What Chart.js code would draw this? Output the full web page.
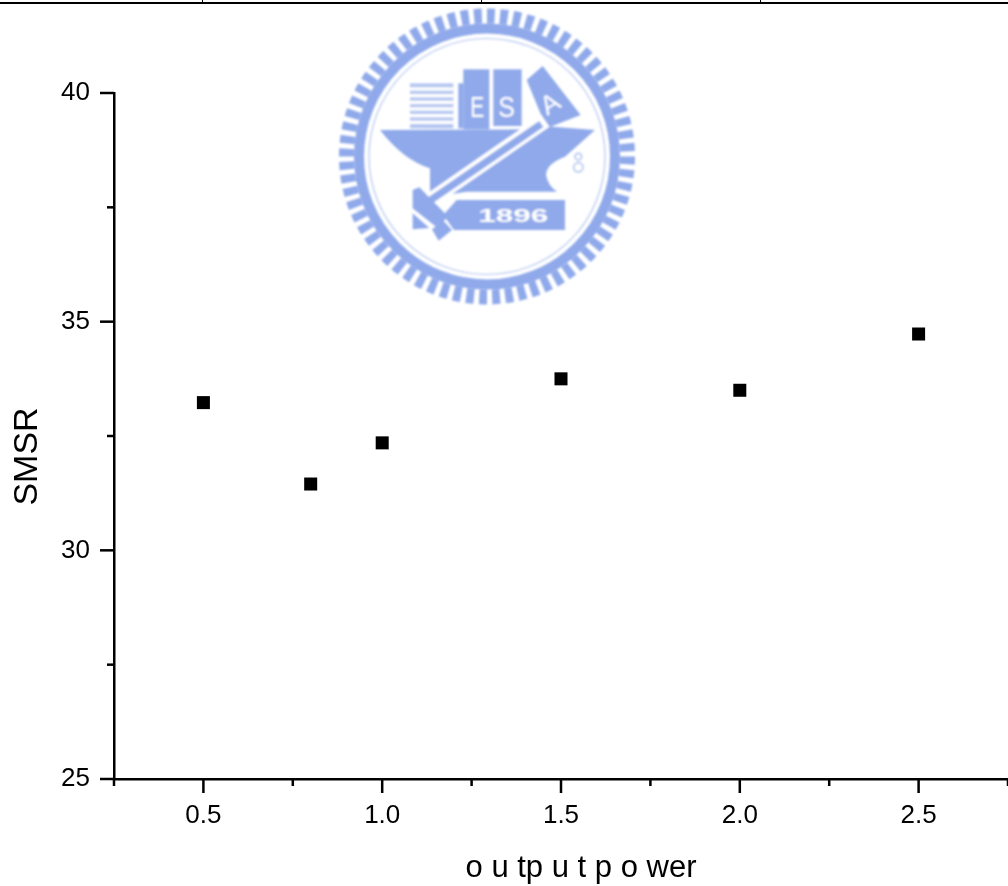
<!DOCTYPE html>
<html>
<head>
<meta charset="utf-8">
<title>SMSR vs output power</title>
<script src="https://cdn.jsdelivr.net/npm/chart.js@4"></script>
<style>
    html, body { margin: 0; padding: 0; background: #fff; overflow: hidden; }
    #wrap { position: relative; width: 1008px; height: 886px; }
    #seal, #myChart { position: absolute; left: 0; top: 0; }
    #seal text { font-family: "Liberation Sans", Arial, sans-serif; fill: #fff; text-anchor: middle; }
</style>
</head>
<body>
<div id="wrap">
    <!-- page rule and the watermark seal that sit behind the plot -->
    <svg id="seal" width="1008" height="886">
        <defs><filter id="soft"><feGaussianBlur stdDeviation="0.9"/></filter></defs>
        <rect x="0" y="2" width="1008" height="2" fill="#000"/>
        <rect x="202" y="0" width="1" height="3" fill="#000"/>
        <rect x="481" y="0" width="1" height="3" fill="#000"/>
        <rect x="760" y="0" width="1" height="3" fill="#000"/>
        <g filter="url(#soft)" fill="#8fa9ea">
            <circle cx="487" cy="156.5" r="140.5" fill="none" stroke="#8fa9ea" stroke-width="15" pathLength="680" stroke-dasharray="6 4"/>
            <circle cx="487" cy="156.5" r="128" fill="none" stroke="#8fa9ea" stroke-width="10"/>
            <circle cx="487" cy="156.5" r="118" fill="none" stroke="#b5c6f0" stroke-width="1.2"/>
            <g transform="translate(330,0) scale(0.3333)">
                <!-- striped book -->
                <rect x="240" y="250" width="130" height="135" fill="#b4c6f0"/>
                <g fill="#fff">
                    <rect x="240" y="262" width="130" height="10"/><rect x="240" y="282" width="130" height="10"/>
                    <rect x="240" y="302" width="130" height="10"/><rect x="240" y="322" width="130" height="10"/>
                    <rect x="240" y="342" width="130" height="10"/><rect x="240" y="362" width="130" height="10"/>
                </g>
                <!-- books -->
                <rect x="400" y="208" width="78" height="180"/>
                <rect x="385" y="250" width="15" height="135"/>
                <rect x="490" y="208" width="85" height="170"/>
                <polygon points="590,240 638,198 752,345 650,385"/>
                <!-- anvil -->
                <path d="M150,390 L590,388 L640,378 L795,390 L705,470 Q650,490 648,525 Q655,560 682,575 L410,575 L300,592 L300,505 Q220,480 150,390 Z"/>
                <!-- hammer handle with white outline -->
                <line x1="646" y1="362" x2="262" y2="628" stroke="#fff" stroke-width="44"/>
                <line x1="634" y1="372" x2="262" y2="628" stroke="#8fa9ea" stroke-width="22"/>
                <!-- hammer head -->
                <polygon points="248,570 268,562 355,650 320,682 248,625"/>
                <polygon points="248,640 298,684 248,688"/>
                <polygon points="306,688 340,662 366,690 326,722"/>
                <!-- year plate -->
                <polygon points="380,600 705,600 705,690 372,690 340,645"/>
                <g transform="translate(745,488)" fill="none" stroke="#b5c6f0" stroke-width="5">
                    <circle cx="0" cy="-18" r="10"/><circle cx="0" cy="14" r="14"/>
                </g>
                <text x="442" y="352" font-size="88" textLength="42" lengthAdjust="spacingAndGlyphs">E</text>
                <text x="530" y="352" font-size="88" textLength="50" lengthAdjust="spacingAndGlyphs">S</text>
                <text x="660" y="338" font-size="80" transform="rotate(-32 660 310)">A</text>
                <text x="550" y="665" font-size="56" font-weight="bold" textLength="210" lengthAdjust="spacingAndGlyphs">1896</text>
            </g>
        </g>
    </svg>
    <canvas id="myChart" width="1008" height="886"></canvas>
</div>
<script>
// Prepare data visualisation
const outputPower = [0.5, 0.8, 1.0, 1.5, 2.0, 2.5];
const smsr = [33.23, 31.45, 32.35, 33.75, 33.5, 34.73];

const xTicks = [0.5, 1.0, 1.5, 2.0, 2.5];
const xMinorTicks = [0.25, 0.75, 1.25, 1.75, 2.25, 2.75];
const yTicks = [25, 30, 35, 40];
const yMinorTicks = [27.5, 32.5, 37.5];

const xLabel = "o u tp u t p o wer";
const yLabel = "SMSR";

const FONT = '"Liberation Sans", Arial, sans-serif';
const AXIS_WIDTH = 2.5;
const MAJOR_LEN = 14;
const MINOR_LEN = 7;

// Chart.js has one tick length per axis, so the long and short ticks are drawn here
const originTicks = {
    id: "originTicks",
    afterDraw(chart) {
        const { ctx, scales: { x, y }, chartArea } = chart;
        ctx.save();
        ctx.fillStyle = "#000";
        const half = AXIS_WIDTH / 2;
        const tickX = (v, len) => ctx.fillRect(x.getPixelForValue(v) - half, chartArea.bottom, AXIS_WIDTH, len);
        const tickY = (v, len) => ctx.fillRect(chartArea.left - len, y.getPixelForValue(v) - half, len, AXIS_WIDTH);
        xTicks.forEach(v => tickX(v, MAJOR_LEN));
        xMinorTicks.forEach(v => tickX(v, MINOR_LEN));
        yTicks.forEach(v => tickY(v, MAJOR_LEN));
        yMinorTicks.forEach(v => tickY(v, MINOR_LEN));

        // axis titles are off centre in the reference
        ctx.textAlign = "center";
        ctx.textBaseline = "alphabetic";
        ctx.font = "31px " + FONT;
        ctx.fillText(xLabel, 581, 877);
        ctx.translate(37, 456.5);
        ctx.rotate(-Math.PI / 2);
        ctx.font = "34px " + FONT;
        ctx.fillText(yLabel, 0, 0);
        ctx.restore();
    }
};

new Chart(document.getElementById("myChart"), {
    type: "scatter",
    data: {
        datasets: [{
            label: "SMSR",
            data: outputPower.map((p, i) => ({ x: p, y: smsr[i] })),
            backgroundColor: "#000",
            borderWidth: 0,
            pointStyle: "rect",
            pointRadius: 9.2,
            pointHoverRadius: 9.2
        }]
    },
    options: {
        responsive: false,
        animation: false,
        // autoPadding would keep room for the marker radius at the right edge
        layout: { autoPadding: false, padding: { top: 93, right: -0.8 } },
        plugins: { legend: { display: false }, tooltip: { enabled: false } },
        scales: {
            x: {
                type: "linear",
                min: 0.25,
                max: 2.75,
                afterBuildTicks: s => { s.ticks = xTicks.map(value => ({ value })); },
                afterFit: s => { s.height = 107; },
                grid: { display: false, drawTicks: false },
                border: { color: "#000", width: AXIS_WIDTH },
                ticks: {
                    color: "#000",
                    padding: 21,
                    maxRotation: 0,
                    font: { family: FONT, size: 26 },
                    callback: v => v.toFixed(1)
                }
            },
            y: {
                min: 25,
                max: 40,
                afterBuildTicks: s => { s.ticks = yTicks.map(value => ({ value })); },
                afterFit: s => { s.width = 114; },
                grid: { display: false, drawTicks: false },
                border: { color: "#000", width: AXIS_WIDTH },
                ticks: {
                    color: "#000",
                    padding: 24,
                    font: { family: FONT, size: 26 }
                }
            }
        }
    },
    plugins: [originTicks]
});
</script>
</body>
</html>
